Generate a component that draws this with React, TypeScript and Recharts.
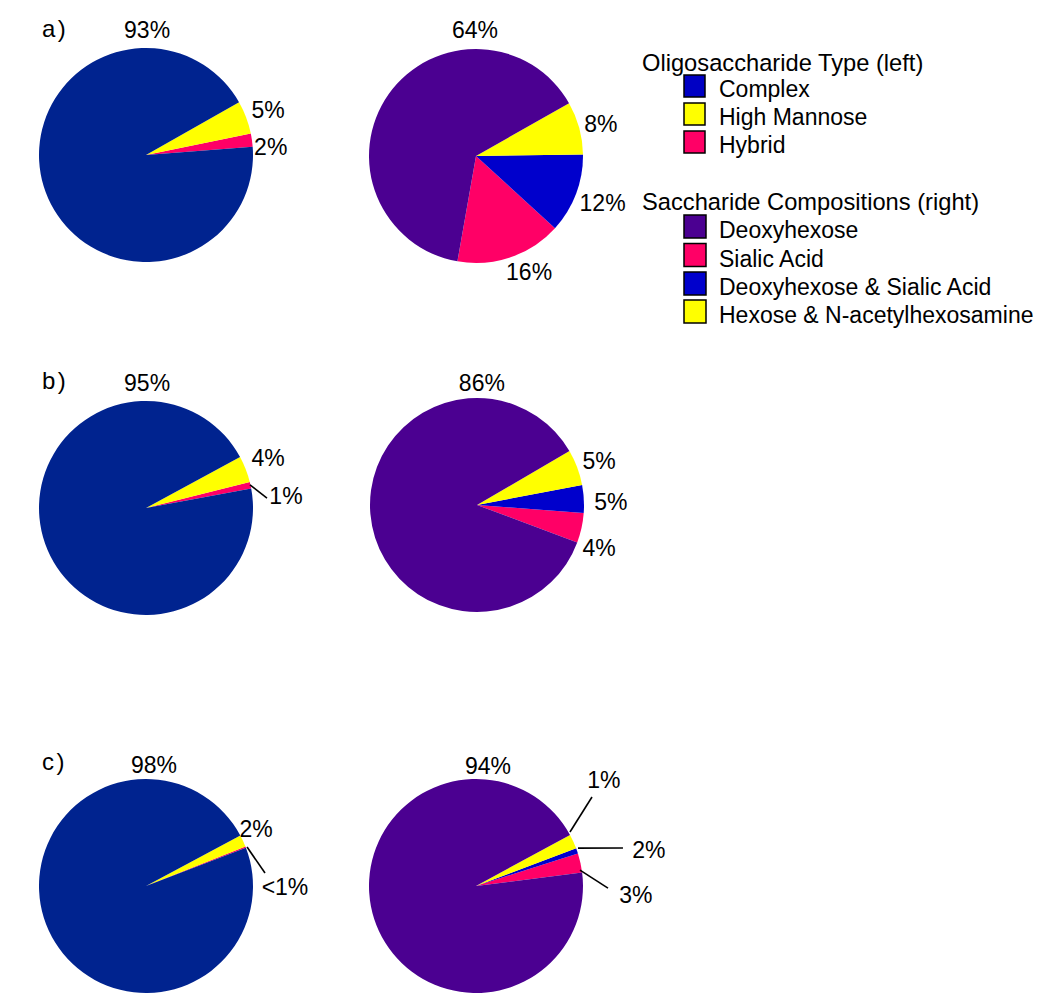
import React from 'react';
import { PieChart, Pie, Cell } from 'recharts';

// ---------- DATA ----------
const leftCategories = ['Hybrid', 'High Mannose', 'Complex'];
const rightCategories = ['Sialic Acid', 'Deoxyhexose & Sialic Acid', 'Hexose & N-acetylhexosamine', 'Deoxyhexose'];

const leftValuesA = [2, 5, 93];
const leftValuesB = [1, 4, 95];
const leftValuesC = [0.2, 1.8, 98];
const rightValuesA = [16, 12, 8, 64];
const rightValuesB = [4.5, 4.2, 5.4, 85.9];
const rightValuesC = [2.9, 0.8, 2.2, 94.1];

const leftLabelsA = ['2%', '5%', '93%'];
const leftLabelsB = ['1%', '4%', '95%'];
const leftLabelsC = ['<1%', '2%', '98%'];
const rightLabelsA = ['16%', '12%', '8%', '64%'];
const rightLabelsB = ['4%', '5%', '5%', '86%'];
const rightLabelsC = ['3%', '2%', '1%', '94%'];

const panelLabels = ['a)', 'b)', 'c)'];

const legendLeftTitle = 'Oligosaccharide Type (left)';
const legendLeftItems = ['Complex', 'High Mannose', 'Hybrid'];
const legendRightTitle = 'Saccharide Compositions (right)';
const legendRightItems = ['Deoxyhexose', 'Sialic Acid', 'Deoxyhexose & Sialic Acid', 'Hexose & N-acetylhexosamine'];

// ---------- STYLE / LAYOUT ----------
const FONT = '"Liberation Sans", Arial, sans-serif';
const FS = 23;
const NAVY = '#00238F';
const PURPLE = '#4B0091';
const PINK = '#FF0066';
const YELLOW = '#FFFF00';
const BLUE = '#0000CC';
const LEGEND_BLUE = '#0000C4';

const leftColors = [PINK, YELLOW, NAVY];
const rightColors = [PINK, BLUE, YELLOW, PURPLE];
const legendLeftColors = [LEGEND_BLUE, YELLOW, PINK];
const legendRightColors = [PURPLE, PINK, BLUE, YELLOW];

const R = 107;

type LabelSpec = [number, number, number[]?];

const pies = [
  { cx: 146, cy: 155, start: 4.4, cats: leftCategories, values: leftValuesA, labels: leftLabelsA, colors: leftColors,
    layout: [[3.7, 125], [20.2, 130], [89.5, 125]] as LabelSpec[] },
  { cx: 476, cy: 156, start: -100, cats: rightCategories, values: rightValuesA, labels: rightLabelsA, colors: rightColors,
    layout: [[-65.4, 127.5], [-20.3, 135], [14.4, 129], [90.5, 126]] as LabelSpec[] },
  { cx: 146, cy: 508, start: 10.5, cats: leftCategories, values: leftValuesB, labels: leftLabelsB, colors: leftColors,
    layout: [[4.9, 140.5, [12.5, 106.5, 4.7, 121.4]], [22.3, 132], [89.5, 125]] as LabelSpec[] },
  { cx: 477, cy: 505, start: -20.5, cats: rightCategories, values: rightValuesB, labels: rightLabelsB, colors: rightColors,
    layout: [[-19.4, 129.4], [1.3, 134], [19.8, 129.7], [87.7, 122]] as LabelSpec[] },
  { cx: 146, cy: 886, start: 21.0, cats: leftCategories, values: leftValuesC, labels: leftLabelsC, colors: leftColors,
    layout: [[-0.4, 139, [21.1, 108.3, 6.2, 119.7]], [27.4, 124], [86.2, 121.3]] as LabelSpec[] },
  { cx: 476, cy: 886, start: 7.3, cats: rightCategories, values: rightValuesC, labels: rightLabelsC, colors: rightColors,
    layout: [[-3.2, 160, [8.7, 105.2, -0.9, 132]], [11.8, 176.7, [20.4, 108.8, 14.5, 151.8]], [39.6, 166, [29.9, 108.4, 37.5, 146.2]], [84.3, 120.6]] as LabelSpec[] },
];

const panelPos = [
  { x: 42, y: 37 },
  { x: 42, y: 389 },
  { x: 42, y: 770 },
];

const RAD = Math.PI / 180;
const polar = (cx: number, cy: number, a: number, r: number) => ({
  x: cx + r * Math.cos(a * RAD),
  y: cy - r * Math.sin(a * RAD),
});

const makeLabel = (p: typeof pies[number]) => (props: any) => {
  const idx = props.index as number;
  const spec = p.layout[idx];
  if (!spec) return null;
  const [ang, rad, line] = spec;
  const t = polar(p.cx, p.cy, ang, rad);
  let lineEl = null;
  if (line) {
    const a = polar(p.cx, p.cy, line[0], line[1]);
    const b = polar(p.cx, p.cy, line[2], line[3]);
    lineEl = <line x1={a.x} y1={a.y} x2={b.x} y2={b.y} stroke="#000" strokeWidth={1.6} />;
  }
  return (
    <g key={`lbl-${idx}`}>
      {lineEl}
      <text x={t.x} y={t.y + FS * 0.36} textAnchor="middle" fontSize={FS} fontFamily={FONT} fill="#000">
        {p.labels[idx]}
      </text>
    </g>
  );
};

const Legend = () => {
  const sqX = 684;
  const txX = 719;
  const g1 = [97, 125, 153];
  const g2 = [238, 266.5, 295, 323];
  return (
    <svg width={1050} height={1005} style={{ position: 'absolute', left: 0, top: 0, pointerEvents: 'none' }}>
      {panelLabels.map((t, i) => (
        <text key={t} x={panelPos[i].x} y={panelPos[i].y} fontSize={FS + 1} fontFamily={FONT} letterSpacing={2.5} fill="#000">{t}</text>
      ))}
      <text x={642} y={71} fontSize={23.7} fontFamily={FONT} fill="#000">{legendLeftTitle}</text>
      {legendLeftItems.map((t, i) => (
        <g key={t}>
          <rect x={sqX} y={g1[i] - 22} width={21} height={22} fill={legendLeftColors[i]} stroke="#000" strokeWidth={1.5} />
          <text x={txX} y={g1[i]} fontSize={FS} fontFamily={FONT} fill="#000">{t}</text>
        </g>
      ))}
      <text x={642} y={210} fontSize={23.7} fontFamily={FONT} fill="#000">{legendRightTitle}</text>
      {legendRightItems.map((t, i) => (
        <g key={t}>
          <rect x={sqX} y={g2[i] - 23} width={22} height={23} fill={legendRightColors[i]} stroke="#000" strokeWidth={1.5} />
          <text x={txX} y={g2[i]} fontSize={FS} fontFamily={FONT} fill="#000">{t}</text>
        </g>
      ))}
    </svg>
  );
};

export default function App() {
  return (
    <div style={{ position: 'absolute', left: 0, top: 0, width: 1050, height: 1005, background: '#fff' }}>
      <PieChart width={1050} height={1005} margin={{ top: 0, right: 0, bottom: 0, left: 0 }}>
        {pies.map((p, pi) => {
          const data = p.cats.map((c, i) => ({ name: c, value: p.values[i] }));
          return (
            <Pie
              key={pi}
              data={data}
              dataKey="value"
              nameKey="name"
              cx={p.cx}
              cy={p.cy}
              outerRadius={R}
              innerRadius={0}
              startAngle={p.start}
              endAngle={p.start + 360}
              stroke="none"
              isAnimationActive={false}
              labelLine={false}
              label={makeLabel(p)}
            >
              {data.map((d, i) => (
                <Cell key={d.name} fill={p.colors[i]} stroke="none" />
              ))}
            </Pie>
          );
        })}
      </PieChart>
      <Legend />
    </div>
  );
}
